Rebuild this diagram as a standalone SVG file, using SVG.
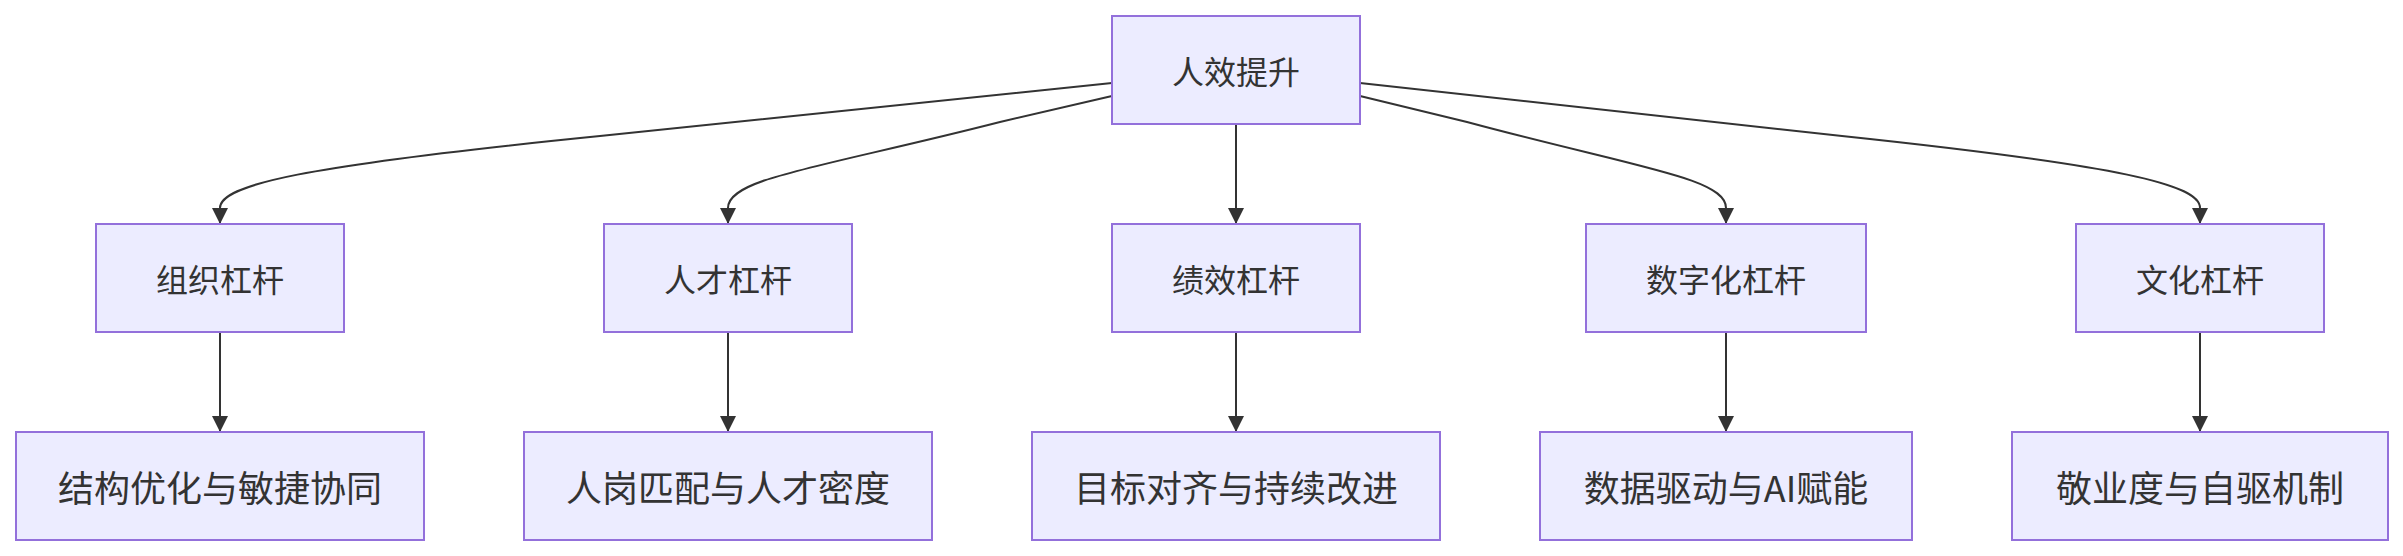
<svg xmlns="http://www.w3.org/2000/svg" width="2403" height="556" viewBox="0 0 2403 556">
<style>
.node rect{fill:#ECECFF;stroke:#9370DB;stroke-width:2}
.node text{fill:#333333;font-family:"Noto Sans CJK SC","Noto Sans",sans-serif;text-anchor:middle;dominant-baseline:central}
.l1 text{font-size:32px}
.l3 text{font-size:36px}
.edges path{fill:none;stroke:#333333;stroke-width:2;marker-end:url(#arrow)}
</style>
<defs>
<marker id="arrow" viewBox="0 0 10 10" refX="10" refY="5" markerUnits="userSpaceOnUse" markerWidth="16" markerHeight="16" orient="auto">
<path d="M0,0 L10,5 L0,10 z" fill="#333333"/>
</marker>
</defs>
<rect width="2403" height="556" fill="#ffffff"/>
<g class="edges">
<path d="M1112,83 L600,136 C300,166 220,185 220,208 L220,224"/>
<path d="M1112,96 L1000,122 C820,168 728,178 728,208 L728,224"/>
<path d="M1236,124 L1236,224"/>
<path d="M1360,96 L1467,122 C1638,168 1726,178 1726,208 L1726,224"/>
<path d="M1360,83 L1842,136 C2125,166 2200,185 2200,208 L2200,224"/>
<path d="M220,332 L220,432"/>
<path d="M728,332 L728,432"/>
<path d="M1236,332 L1236,432"/>
<path d="M1726,332 L1726,432"/>
<path d="M2200,332 L2200,432"/>
</g>
<g id="root" class="node l1"><rect x="1112" y="16" width="248" height="108"/><text x="1236" y="70">人效提升</text></g>
<g id="org" class="node l1"><rect x="96" y="224" width="248" height="108"/><text x="220" y="278">组织杠杆</text></g>
<g id="talent" class="node l1"><rect x="604" y="224" width="248" height="108"/><text x="728" y="278">人才杠杆</text></g>
<g id="perf" class="node l1"><rect x="1112" y="224" width="248" height="108"/><text x="1236" y="278">绩效杠杆</text></g>
<g id="digital" class="node l1"><rect x="1586" y="224" width="280" height="108"/><text x="1726" y="278">数字化杠杆</text></g>
<g id="culture" class="node l1"><rect x="2076" y="224" width="248" height="108"/><text x="2200" y="278">文化杠杆</text></g>
<g id="org2" class="node l3"><rect x="16" y="432" width="408" height="108"/><text x="220" y="486">结构优化与敏捷协同</text></g>
<g id="talent2" class="node l3"><rect x="524" y="432" width="408" height="108"/><text x="728" y="486">人岗匹配与人才密度</text></g>
<g id="perf2" class="node l3"><rect x="1032" y="432" width="408" height="108"/><text x="1236" y="486">目标对齐与持续改进</text></g>
<g id="digital2" class="node l3"><rect x="1540" y="432" width="372" height="108"/><text x="1726" y="486">数据驱动与AI赋能</text></g>
<g id="culture2" class="node l3"><rect x="2012" y="432" width="376" height="108"/><text x="2200" y="486">敬业度与自驱机制</text></g>
</svg>
